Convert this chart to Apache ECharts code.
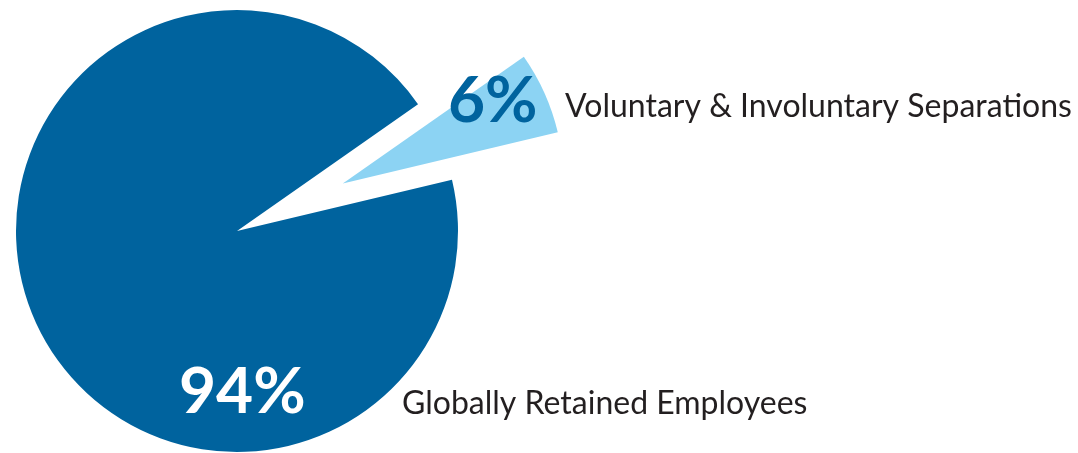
<!DOCTYPE html>
<html>
<head>
<meta charset="utf-8">
<script src="https://cdn.jsdelivr.net/npm/echarts@6/dist/echarts.min.js"></script>
<style>
html,body{margin:0;padding:0;background:#fff;}
#chart{width:1078px;height:453px;}
</style>
</head>
<body>
<div id="chart"></div>
<script>
var categories = ['Voluntary & Involuntary Separations', 'Globally Retained Employees'];
var values = [6, 94];
var percentLabels = ['6%', '94%'];

var colors = ['#8CD3F3', '#00639E'];
var pctColors = ['#00639E', '#FFFFFF'];
var pctLabelPos = [[448, 101], [179, 392]];
var nameLabelPos = [[565, 107], [402, 404]];

var chart = echarts.init(document.getElementById('chart'), null, {renderer: 'canvas'});

var graphics = [];
categories.forEach(function (c, i) {
  graphics.push({
    type: 'text', z: 100, silent: true,
    style: {
      text: percentLabels[i],
      x: pctLabelPos[i][0], y: pctLabelPos[i][1],
      align: 'left', verticalAlign: 'middle',
      font: 'bold 64px Lato',
      fill: pctColors[i]
    }
  });
  graphics.push({
    type: 'text', z: 100, silent: true,
    style: {
      text: c,
      x: nameLabelPos[i][0], y: nameLabelPos[i][1],
      align: 'left', verticalAlign: 'middle',
      font: '32px Lato',
      fill: '#231F20'
    }
  });
});

chart.setOption({
  animation: false,
  series: [{
    type: 'pie',
    center: [237, 231],
    radius: [0, 221],
    startAngle: 35,
    clockwise: true,
    selectedMode: 'single',
    selectedOffset: 116,
    emphasis: {disabled: true},
    label: {show: false},
    labelLine: {show: false},
    data: categories.map(function (c, i) {
      return {name: c, value: values[i], selected: i === 0, itemStyle: {color: colors[i]}};
    })
  }],
  graphic: graphics
});
</script>
</body>
</html>
